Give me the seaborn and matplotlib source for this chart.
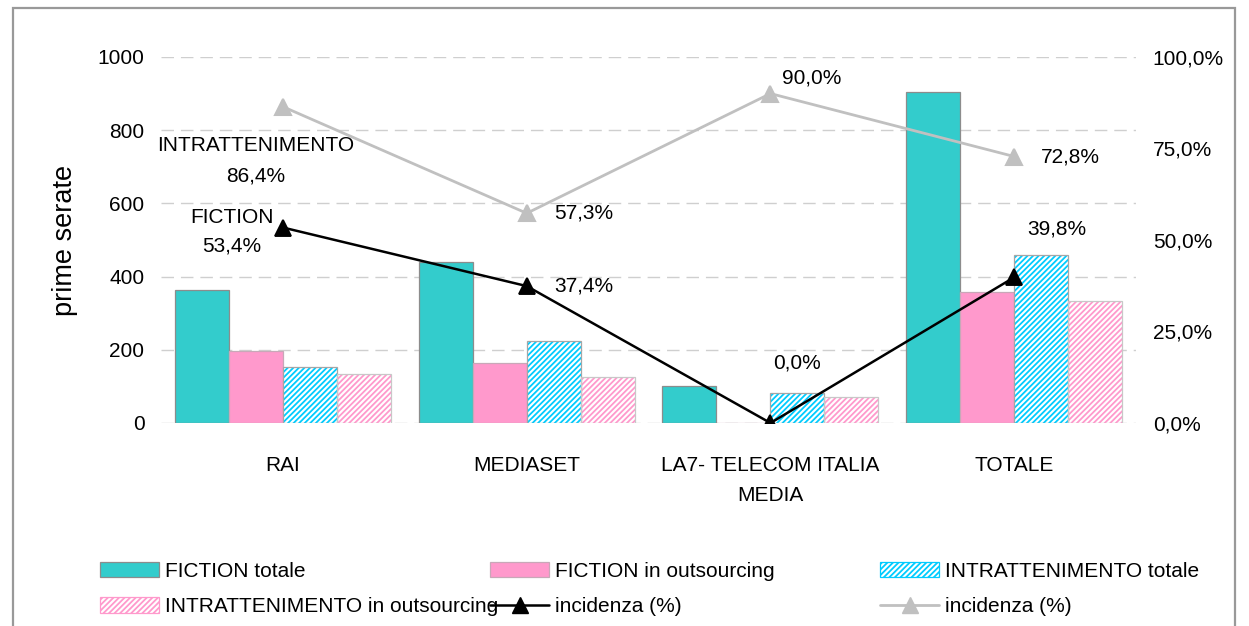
import matplotlib
matplotlib.use("Agg")
import matplotlib.pyplot as plt
import seaborn as sns
import pandas as pd
import numpy as np
from matplotlib.patches import Patch, Rectangle
from matplotlib.lines import Line2D

# ---------------- data ----------------
categories = ["RAI", "MEDIASET", "LA7- TELECOM ITALIA\nMEDIA", "TOTALE"]
fiction_totale = [363, 440, 102, 905]
fiction_outsourcing = [197, 165, 0, 357]
intratt_totale = [153, 224, 83, 459]
intratt_outsourcing = [134, 127, 71, 333]
incidenza_fiction = [53.4, 37.4, 0.0, 39.8]
incidenza_intratt = [86.4, 57.3, 90.0, 72.8]
series_names = ["FICTION totale", "FICTION in outsourcing",
                "INTRATTENIMENTO totale", "INTRATTENIMENTO in outsourcing"]
left_ticks = [0, 200, 400, 600, 800, 1000]
right_ticks = [0, 25, 50, 75, 100]

# ---------------- style ----------------
sns.set_theme(style="white")
plt.rcParams["font.family"] = ["Liberation Sans", "DejaVu Sans"]
plt.rcParams["hatch.linewidth"] = 1.3
for k in ["text.color", "axes.labelcolor", "xtick.color", "ytick.color"]:
    plt.rcParams[k] = "black"

TEAL = "#33CCCC"
PINK = "#FF99CC"
CYAN = "#00CCFF"
SILVER = "#C0C0C0"
FS = 15

df = pd.DataFrame({
    "cat": np.repeat(categories, 4),
    "series": series_names * len(categories),
    "val": np.ravel(np.column_stack([fiction_totale, fiction_outsourcing,
                                     intratt_totale, intratt_outsourcing])),
})

fig = plt.figure(figsize=(12.49, 6.26), dpi=100)
ax = fig.add_axes([0.129, 0.3243, 0.7806, 0.5847])

sns.barplot(data=df, x="cat", y="val", hue="series", hue_order=series_names,
            order=categories, palette=[TEAL, PINK, "white", "white"],
            width=0.886, saturation=1, legend=False, ax=ax,
            edgecolor="#8C8C8C", linewidth=0.9, errorbar=None)

# hatched series: hatch coloured, outline grey on top
hatch_cols = {2: CYAN, 3: PINK}
outline_cols = {0: "#8C8C8C", 1: "#C8A8B8", 2: "#A6A6A6", 3: "#C8C8C8"}
for k, cont in enumerate(ax.containers):
    for p in cont.patches:
        if k in hatch_cols:
            p.set_edgecolor(hatch_cols[k])
            p.set_hatch("//////")
            p.set_linewidth(0)
            r = Rectangle(p.get_xy(), p.get_width(), p.get_height(),
                          fill=False, edgecolor=outline_cols[k], linewidth=0.9,
                          zorder=p.get_zorder() + 0.1)
            ax.add_patch(r)
        else:
            p.set_edgecolor(outline_cols[k])

ax.set_ylim(0, 1000)
ax.set_yticks(left_ticks)
ax.set_yticklabels([str(t) for t in left_ticks], fontsize=FS)
ax.yaxis.grid(True, color="#CFCFCF", linestyle=(0, (9, 5)), linewidth=1)
ax.set_axisbelow(True)
for s in ax.spines.values():
    s.set_visible(False)
ax.tick_params(axis="y", length=0, pad=12)
ax.tick_params(axis="x", length=0, pad=24, labelsize=FS)
for lbl in ax.get_xticklabels():
    lbl.set_linespacing(1.7)
ax.set_xlabel("")
ax.set_ylabel("prime serate", fontsize=19.5, labelpad=14)

# ---------------- lines (secondary axis) ----------------
ax2 = ax.twinx()
sns.pointplot(x=categories, y=incidenza_intratt, order=categories, ax=ax2,
              color=SILVER, markers="^", markersize=11, linewidth=2,
              errorbar=None)
sns.pointplot(x=categories, y=incidenza_fiction, order=categories, ax=ax2,
              color="black", markers="^", markersize=11, linewidth=1.8,
              errorbar=None)
ax2.set_ylim(0, 100)
ax2.set_yticks(right_ticks)
ax2.set_yticklabels([f"{t:.1f}".replace(".", ",") + "%" for t in right_ticks],
                    fontsize=FS)
ax2.tick_params(axis="y", length=0, pad=12)
ax2.set_ylabel("")
ax2.set_xlabel("")
for s in ax2.spines.values():
    s.set_visible(False)
ax.set_xlim(-0.5, 3.5)
ax2.set_xlim(-0.5, 3.5)

def pct(v):
    return f"{v:.1f}".replace(".", ",") + "%"

# labels (offsets in points)
intr_offsets = [(-20, -39), (20, 0), (8, 11), (19, 0)]
fic_offsets = [(-37, -3), (20, 0), (19, 43), (31, 35)]
intr_ha = ["center", "left", "left", "left"]
fic_ha = ["center", "left", "center", "center"]
for i, v in enumerate(incidenza_intratt):
    txt = pct(v) if i else "INTRATTENIMENTO\n" + pct(v)
    ax2.annotate(txt, xy=(i, v), xytext=intr_offsets[i], textcoords="offset points",
                 ha=intr_ha[i], va="center", fontsize=FS, linespacing=1.75)
for i, v in enumerate(incidenza_fiction):
    txt = pct(v) if i else "FICTION\n" + pct(v)
    ax2.annotate(txt, xy=(i, v), xytext=fic_offsets[i], textcoords="offset points",
                 ha=fic_ha[i], va="center", fontsize=FS, linespacing=1.65)

# ---------------- legend ----------------
h = [Patch(facecolor=TEAL, edgecolor="#8C8C8C", linewidth=0.9),
     Patch(facecolor=PINK, edgecolor="#C8A8B8", linewidth=0.9),
     Patch(facecolor="white", edgecolor=CYAN, hatch="//////", linewidth=0.9),
     Patch(facecolor="white", edgecolor=PINK, hatch="//////", linewidth=0.9),
     Line2D([], [], color="black", linewidth=1.8, marker="^", markersize=11),
     Line2D([], [], color=SILVER, linewidth=2, marker="^", markersize=11)]
labels = series_names + ["incidenza (%)", "incidenza (%)"]
cols = [(0, 3), (1, 4), (2, 5)]
xs = [100, 490, 880]
for (a, b), x0 in zip(cols, xs):
    fig.legend([h[a], h[b]], [labels[a], labels[b]], loc="upper left",
               bbox_to_anchor=(x0 / 1249, 1 - 562 / 626), frameon=False,
               fontsize=FS, handlelength=2.85, handleheight=0.75,
               handletextpad=0.25, labelspacing=0.78, borderpad=0,
               borderaxespad=0)

# frame around chart
fig.add_artist(Rectangle((13 / 1249, -0.1), (1235 - 13) / 1249, 1.1 - 8 / 626,
                         transform=fig.transFigure, fill=False,
                         edgecolor="#999999", linewidth=1.6))

fig.savefig("out.png", dpi=100)
